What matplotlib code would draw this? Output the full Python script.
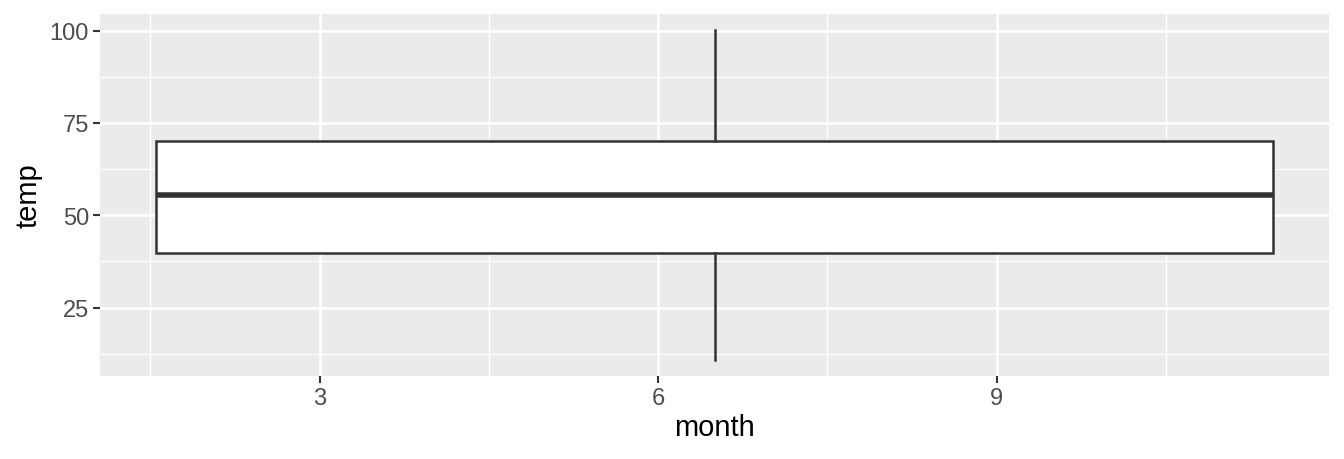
import matplotlib
matplotlib.use("Agg")
import matplotlib.pyplot as plt
from matplotlib.ticker import FixedLocator

# summary of temp over all months (single box, continuous month axis)
box_center = [6.5]
box_width = [9.9]
temp_min = [10.94]
temp_q1 = [39.9]
temp_median = [55.4]
temp_q3 = [70.0]
temp_max = [100.04]

x_ticks = [3, 6, 9]
y_ticks = [25, 50, 75, 100]

plt.rcParams['font.family'] = ['Liberation Sans', 'DejaVu Sans']

fig = plt.figure(figsize=(13.44, 4.6), dpi=100)
ax = fig.add_axes([100/1344, (460-377)/460, (1329-100)/1344, (377-15)/460])
ax.set_facecolor('#EBEBEB')

stats = []
for c, lo, q1, med, q3, hi in zip(box_center, temp_min, temp_q1, temp_median, temp_q3, temp_max):
    stats.append(dict(med=med, q1=q1, q3=q3, whislo=lo, whishi=hi, fliers=[]))

dark = '#333333'
ax.bxp(stats, positions=box_center, widths=box_width, patch_artist=True,
       showcaps=False, manage_ticks=False,
       boxprops=dict(facecolor='white', edgecolor=dark, linewidth=1.8),
       medianprops=dict(color=dark, linewidth=4.0, solid_capstyle='butt'),
       whiskerprops=dict(color=dark, linewidth=1.8),
       zorder=3)

lo = box_center[0] - box_width[0] / 2
hi = box_center[0] + box_width[0] / 2
pad = (hi - lo) * 0.05
ax.set_xlim(lo - pad, hi + pad)
yr = temp_max[0] - temp_min[0]
ax.set_ylim(temp_min[0] - 0.05 * yr, temp_max[0] + 0.05 * yr)

ax.xaxis.set_major_locator(FixedLocator(x_ticks))
ax.xaxis.set_minor_locator(FixedLocator([1.5, 4.5, 7.5, 10.5]))
ax.yaxis.set_major_locator(FixedLocator(y_ticks))
ax.yaxis.set_minor_locator(FixedLocator([12.5, 37.5, 62.5, 87.5]))
ax.set_xticklabels([str(t) for t in x_ticks])
ax.set_yticklabels([str(t) for t in y_ticks])

ax.grid(which='major', color='white', linewidth=1.9, zorder=0)
ax.grid(which='minor', color='white', linewidth=0.95, zorder=0)
ax.set_axisbelow(True)

for s in ax.spines.values():
    s.set_visible(False)

ax.tick_params(which='major', length=5, width=1.5, color=dark, labelsize=17,
               labelcolor='#4D4D4D', pad=3)
ax.tick_params(which='minor', length=0)

ax.set_xlabel('month', fontsize=21, color='black', labelpad=3)
ax.set_ylabel('temp', fontsize=21, color='black', labelpad=5)

fig.savefig('out.png', dpi=100, facecolor='white')
